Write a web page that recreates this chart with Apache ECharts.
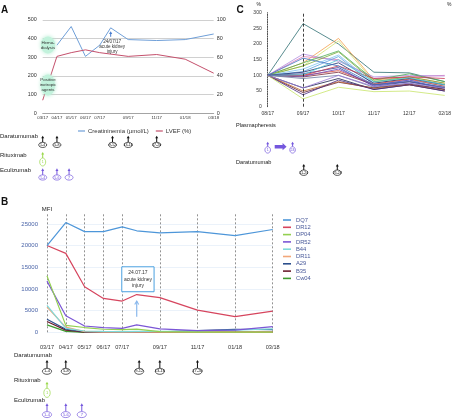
<!DOCTYPE html>
<html><head><meta charset="utf-8">
<script src="https://cdn.jsdelivr.net/npm/echarts@6/dist/echarts.min.js"></script>
<style>html,body{margin:0;padding:0;background:#fff}#c{width:454px;height:419px}</style>
</head><body><div id="c"></div>
<script>
// ---------------- DATA ----------------
const monthTicks = [0,1,2,3,4,6,8,10,12];
const monthTickLabels = ['03/17','04/17','05/17','06/17','07/17','09/17','11/17','01/18','03/18'];
const akiMonth = 4.77; // 24.07.17

// Panel A
const creatMonths = [1,2,3,4,4.77,6,8,10,12];
const creatValues = [365,465,305,365,458,395,390,395,425];
const lvefMonths = [0,1,2,3,4,6,8,10,12];
const lvefValues = [14,61,65,68,65,61,63,58,43];

// Panel B (MFI)
const hlaMonths = [0,1,2,3,4,4.77,6,8,10,12];
const hlaNames = ['DQ7','DR12','DP04','DR52','B44','DR11','A29','B35','Cw04'];
const DQ7  = [20000,25300,23200,23200,24300,23400,22900,23200,22300,23700];
const DR12 = [20000,18200,10500,7800,7200,8700,8000,5100,3600,4900];
const DP04 = [13000,1600,1100,700,600,750,150,60,40,40];
const DR52 = [11800,3800,1450,1100,900,1700,800,400,500,1300];
const B44  = [6200,900,300,200,150,200,200,300,500,800];
const DR11 = [5800,1200,150,60,40,40,30,30,30,30];
const A29  = [3000,700,120,60,60,60,100,400,700,600];
const B35  = [2500,500,60,30,20,20,20,20,20,20];
const Cw04 = [1700,200,0,0,0,0,0,0,0,0];
const hlaValues = [DQ7,DR12,DP04,DR52,B44,DR11,A29,B35,Cw04];

// Panel C (% of baseline)
const cCategories = ['08/17','09/17','10/17','11/17','12/17','02/18'];
const c01 = [100,265,200,110,108,80];
const c02 = [100,140,218,85,95,75];
const c03 = [100,130,210,80,90,70];
const c04 = [100,160,150,90,95,100];
const c05 = [100,168,145,95,100,98];
const c06 = [100,140,178,85,105,80];
const c07 = [100,130,175,80,95,75];
const c08 = [100,120,165,75,90,70];
const c09 = [100,112,160,70,85,65];
const c10 = [100,110,140,75,90,70];
const c11 = [100,105,125,65,80,60];
const c12 = [100,100,130,90,95,90];
const c13 = [100,95,110,70,80,60];
const c14 = [100,100,115,72,88,65];
const c15 = [100,97,120,68,85,55];
const c16 = [100,102,150,80,92,70];
const c17 = [100,90,100,62,75,55];
const c18 = [100,60,90,55,70,50];
const c19 = [100,45,78,60,72,55];
const c20 = [100,50,80,58,70,52];
const c21 = [100,38,85,55,70,50];
const c22 = [100,25,62,48,50,36];
const c23 = [100,60,100,65,75,60];
const c24 = [100,155,130,70,80,62];
const cValues = [c01,c02,c03,c04,c05,c06,c07,c08,c09,c10,c11,c12,c13,c14,c15,c16,c17,c18,c19,c20,c21,c22,c23,c24];

// Treatments (month offsets from 03/17)
const daraMonths = [0,1,4.9,6,8];
const daraLabels = ['1-4','5-8','9-12','13-16','17-20'];
const rituxMonths = [0];
const rituxLabels = ['1'];
const ecuMonths = [0,1,1.85];
const ecuLabels = ['1-4','5-6','7'];
// Panel C treatments (category positions)
const plasmaPos = [0,0.69];
const plasmaLabels = ['1','24'];
const daraCPos = [1,1.93];
const daraCLabels = ['21-24','25-28'];

// ---------------- STYLE ----------------
const FF = '"Liberation Sans", Arial, Helvetica, sans-serif';
const hlaColors = ['#4d96d9','#d6455e','#93d050','#7b56d6','#7fdada','#f2a77a','#2c4f8c','#6b1f2e','#3f9b2f'];
const cColors = ['#2e6e72','#f5a04a','#d4e070','#e07ab8','#b08ae0','#4caf50','#7aa83a','#7cc4f0','#5aa0e0','#1e2e6e','#2a3f9a','#c83a50','#7a2a3a','#d84a3a','#6a4ac0','#50c8d0','#6a7aa0','#16204a','#5a1a30','#c06a30','#4a2a80','#c8e46a','#9a7ad8','#3a70c0'];
const DARA='#111', RITUX='#9ad84a', ECU='#7457dd';

const monthFmt = v => { const i = monthTicks.indexOf(v); return i >= 0 ? monthTickLabels[i] : ''; };
const zip = (xs, ys) => xs.map((x,i)=>[x, ys[i]]);

function treat(xi, yi, pos, labels, row, color, st){
  return {
    type:'custom', xAxisIndex:xi, yAxisIndex:yi, silent:true, z:5,
    data: pos.map(p=>[p,row]),
    renderItem:(params, api)=>{
      const pt = api.coord([api.value(0), api.value(1)]);
      const x = pt[0], y = pt[1];
      const cy = y + st.len + st.ry;
      return {type:'group', children:[
        {type:'line', shape:{x1:x,y1:y+2,x2:x,y2:y+st.len}, style:{stroke:color,lineWidth:1}},
        {type:'polygon', shape:{points:[[x,y],[x-1.5,y+2.6],[x+1.5,y+2.6]]}, style:{fill:color}},
        {type:'ellipse', shape:{cx:x,cy:cy,rx:st.rx,ry:st.ry}, style:{fill:'#fff',stroke:color,lineWidth:0.7}},
        {type:'text', style:{text:labels[params.dataIndex], x:x, y:cy, align:'center', verticalAlign:'middle', fontSize:st.fs, fill:color, fontFamily:FF}}
      ]};
    }
  };
}
function bigArrow(xi, yi, pos, row, color){
  return {
    type:'custom', xAxisIndex:xi, yAxisIndex:yi, silent:true, z:5,
    data:[[pos[0], pos[1], row]],
    renderItem:(params, api)=>{
      const p1 = api.coord([api.value(0), api.value(2)]);
      const p2 = api.coord([api.value(1), api.value(2)]);
      const y = p1[1]+5, x1 = p1[0]+7, x2 = p2[0]-6;
      return {type:'polygon', shape:{points:[[x1,y-1.8],[x2-4,y-1.8],[x2-4,y-3.6],[x2,y],[x2-4,y+3.6],[x2-4,y+1.8],[x1,y+1.8]]}, style:{fill:color}};
    }
  };
}

const hiddenX = (grid,min,max)=>({type:'value', gridIndex:grid, min:min, max:max, show:false});
const hiddenYCat = (grid,rows)=>({type:'category', gridIndex:grid, data:rows, inverse:true, boundaryGap:false, show:false});

const series = [];
series.push({name:'Creatininemia (µmol/L)', type:'line', xAxisIndex:0, yAxisIndex:0, data:zip(creatMonths,creatValues), showSymbol:false, lineStyle:{width:1,color:'#6f9fd8'}, itemStyle:{color:'#6f9fd8'}});
series.push({name:'LVEF (%)', type:'line', xAxisIndex:0, yAxisIndex:1, data:zip(lvefMonths,lvefValues), showSymbol:false, lineStyle:{width:1,color:'#c4506c'}, itemStyle:{color:'#c4506c'}});
hlaNames.forEach((n,i)=>{
  const s = {name:n, type:'line', xAxisIndex:2, yAxisIndex:3, data:zip(hlaMonths,hlaValues[i]), showSymbol:false, z:3+(hlaNames.length-i)*0.01,
    lineStyle:{width:1.2,color:hlaColors[i]}, itemStyle:{color:hlaColors[i]}};
  if(i===0){
    s.markLine = {silent:true, symbol:'none', label:{show:false}, z:1,
      lineStyle:{color:'#777',type:[2,2],width:0.8},
      data: monthTicks.map(m=>({xAxis:m}))};
  }
  series.push(s);
});
cValues.forEach((v,i)=>{
  const s = {name:'c'+i, type:'line', xAxisIndex:4, yAxisIndex:5, data:v, showSymbol:false,
    lineStyle:{width:0.8,color:cColors[i]}, itemStyle:{color:cColors[i]}};
  if(i===0){
    s.markLine = {silent:true, symbol:'none', label:{show:false},
      lineStyle:{color:'#111',type:[3,2],width:0.8},
      data:[{xAxis:cCategories[1]}]};
  }
  series.push(s);
});
// treatments panel A
const stA = {len:6.6, rx:4, ry:2.6, fs:3.6};
const stAr = {len:6, rx:3, ry:4, fs:3.6};
series.push(treat(1,2,daraMonths,daraLabels,0,DARA,stA));
series.push(treat(1,2,rituxMonths,rituxLabels,1,RITUX,stAr));
series.push(treat(1,2,ecuMonths,ecuLabels,2,ECU,stA));
// treatments panel B
const stB = {len:8.3, rx:4.6, ry:3, fs:4};
const stBr = {len:6.6, rx:3.2, ry:4.6, fs:4};
series.push(treat(3,4,daraMonths,daraLabels,0,DARA,stB));
series.push(treat(3,4,rituxMonths,rituxLabels,1,RITUX,stBr));
series.push(treat(3,4,ecuMonths,ecuLabels,2,ECU,stB));
// treatments panel C
series.push(treat(5,7,plasmaPos,plasmaLabels,0,ECU,{len:5, rx:2.8, ry:3.2, fs:3.6}));
series.push(bigArrow(5,7,plasmaPos,0,ECU));
series.push(treat(5,7,daraCPos,daraCLabels,1,DARA,{len:6, rx:4, ry:2.7, fs:3.4}));

const option = {
  animation:false,
  textStyle:{fontFamily:FF},
  grid:[
    {left:42.7, top:20, width:171, height:93.3},
    {left:42.7, top:135.7, width:171, height:32.6},
    {left:47, top:213, width:225.7, height:119.3},
    {left:47, top:360, width:225.7, height:43.3},
    {left:267.7, top:12.7, width:180.3, height:94},
    {left:267.7, top:141.7, width:180.3, height:22.3}
  ],
  xAxis:[
    {type:'value', gridIndex:0, min:0, max:12, interval:1,
      axisLine:{lineStyle:{color:'#999',width:0.8}}, axisTick:{show:false}, splitLine:{show:false},
      axisLabel:{formatter:monthFmt, fontSize:4.3, color:'#333', margin:3}},
    hiddenX(1,0,12),
    {type:'value', gridIndex:2, min:0, max:12, interval:1,
      axisLine:{show:false}, axisTick:{show:false}, splitLine:{show:false},
      axisLabel:{formatter:monthFmt, fontSize:5.6, color:'#333', margin:12}},
    hiddenX(3,0,12),
    {type:'category', gridIndex:4, data:cCategories, boundaryGap:false,
      axisLine:{show:false}, axisTick:{show:false},
      axisLabel:{fontSize:5, color:'#333', margin:4}},
    hiddenX(5,0,5)
  ],
  yAxis:[
    {type:'value', gridIndex:0, min:0, max:500, interval:100,
      axisLine:{show:false}, axisTick:{show:false},
      splitLine:{lineStyle:{color:'#c4c4c4',width:0.8}},
      axisLabel:{fontSize:5.4, color:'#333', margin:6}},
    {type:'value', gridIndex:0, min:0, max:100, interval:20, position:'right',
      axisLine:{show:false}, axisTick:{show:false}, splitLine:{show:false},
      axisLabel:{fontSize:5.4, color:'#333', margin:3}},
    hiddenYCat(1,['Daratumumab','Rituximab','Eculizumab']),
    {type:'value', gridIndex:2, min:0, max:27500, interval:5000,
      axisLine:{show:false}, axisTick:{show:false},
      axisLabel:{fontSize:6, color:'#4a64a8', margin:9, showMaxLabel:false, formatter:v=>String(v)},
      splitLine:{showMaxLine:false, lineStyle:{color:'#dde9f6',width:0.6}}},
    hiddenYCat(3,['Daratumumab','Rituximab','Eculizumab']),
    {type:'value', gridIndex:4, min:0, max:300, interval:50,
      axisLine:{show:true, lineStyle:{color:'#222',type:[1.2,1.2],width:0.8}}, axisTick:{show:false},
      splitLine:{show:false},
      axisLabel:{fontSize:5, color:'#333', margin:6}},
    {type:'value', gridIndex:4, min:0, max:300, position:'right', show:false},
    hiddenYCat(5,['Plasmapheresis','Daratumumab'])
  ],
  legend:[
    {data:['Creatininemia (µmol/L)','LVEF (%)'], left:73, top:123, icon:'rect', itemWidth:7, itemHeight:1.2, itemGap:7,
      textStyle:{fontSize:6, color:'#333', padding:[0,0,0,-2]}},
    {data:hlaNames, orient:'vertical', left:278, top:212, icon:'rect', itemWidth:8, itemHeight:1.6, itemGap:1.3,
      textStyle:{fontSize:5.8, color:'#4a5a9a'}}
  ],
  series:series
};

const chart = echarts.init(document.getElementById('c'), null, {renderer:'canvas'});
chart.setOption(option);

// ---------------- ANNOTATIONS ----------------
const pA = v => chart.convertToPixel({xAxisIndex:0, yAxisIndex:0}, v);
const pB = v => chart.convertToPixel({xAxisIndex:2, yAxisIndex:3}, v);
const txt = (t,x,y,o)=>Object.assign({type:'text', silent:true, z:10, style:Object.assign({text:t, x:x, y:y, fontFamily:FF, fontSize:6, fill:'#222', verticalAlign:'middle'}, o||{})});

const g = [];
g.push(txt('A',1,10.5,{fontSize:10, fontWeight:'bold', fill:'#111'}));
g.push(txt('B',1,202.5,{fontSize:10, fontWeight:'bold', fill:'#111'}));
g.push(txt('C',236.5,10,{fontSize:10, fontWeight:'bold', fill:'#111'}));
g.push(txt('%',256.5,5,{fontSize:5}));
g.push(txt('%',447,5,{fontSize:5}));
g.push(txt('MFI',47,209,{fontSize:6, align:'center'}));
// row labels
g.push(txt('Daratumumab',0,136.5));
g.push(txt('Rituximab',0,155));
g.push(txt('Eculizumab',0,170.7));
g.push(txt('Daratumumab',14,355.7));
g.push(txt('Rituximab',14,380.7));
g.push(txt('Eculizumab',14,400.7));
g.push(txt('Plasmapheresis',236,125.7,{fontSize:5.6}));
g.push(txt('Daratumumab',236,162.7,{fontSize:5.6}));

// A: blobs
[[ [0.37,366], 'Hemo-\ndialysis', 7, 8.5 ], [ [0.37,152], 'Positive\ninotropic\nagents', 7, 10.5 ]].forEach(b=>{
  const p = pA(b[0]);
  g.push({type:'ellipse', silent:true, z:8, shape:{cx:p[0],cy:p[1],rx:b[2],ry:b[3]}, style:{fill:'#c2f2dc', shadowBlur:4, shadowColor:'#b0ecd0'}});
  g.push(txt(b[1],p[0],p[1],{fontSize:4.4, align:'center', lineHeight:5, fill:'#333'}));
});
// A: AKI arrow + text
{
  const a1 = pA([akiMonth,410]), a2 = pA([akiMonth,440]);
  g.push({type:'line', silent:true, z:9, shape:{x1:a1[0],y1:a1[1],x2:a2[0],y2:a2[1]+2}, style:{stroke:'#4a7ed0',lineWidth:1}});
  g.push({type:'polygon', silent:true, z:9, shape:{points:[[a2[0],a2[1]],[a2[0]-1.6,a2[1]+2.8],[a2[0]+1.6,a2[1]+2.8]]}, style:{fill:'#4a7ed0'}});
  g.push(txt('24/07/17\nacute kidney\ninjury',a1[0]+1.5,a1[1]+10,{fontSize:4.6, align:'center', lineHeight:5.3, fill:'#333'}));
}
// B: AKI box + arrow
{
  const top = pB([akiMonth,15100]), bot = pB([akiMonth,9350]);
  const cx = top[0]+1.2, w = 32.3;
  g.push({type:'rect', silent:true, z:9, shape:{x:cx-w/2, y:top[1], width:w, height:bot[1]-top[1]}, style:{fill:'#fff', stroke:'#4aa0e0', lineWidth:1}});
  g.push(txt('24.07.17\nacute kidney\ninjury',cx,(top[1]+bot[1])/2,{fontSize:5, align:'center', lineHeight:6.5, fill:'#333'}));
  const a1 = pB([akiMonth,3600]), a2 = pB([akiMonth,7200]);
  g.push({type:'line', silent:true, z:9, shape:{x1:a1[0],y1:a1[1],x2:a2[0],y2:a2[1]}, style:{stroke:'#8ab8ec',lineWidth:1.2}});
  g.push({type:'polyline', silent:true, z:9, shape:{points:[[a2[0]-2,a2[1]+3.5],[a2[0],a2[1]],[a2[0]+2,a2[1]+3.5]]}, style:{stroke:'#8ab8ec',lineWidth:1.1, fill:'none'}});
}
chart.setOption({graphic:g});
</script></body></html>
